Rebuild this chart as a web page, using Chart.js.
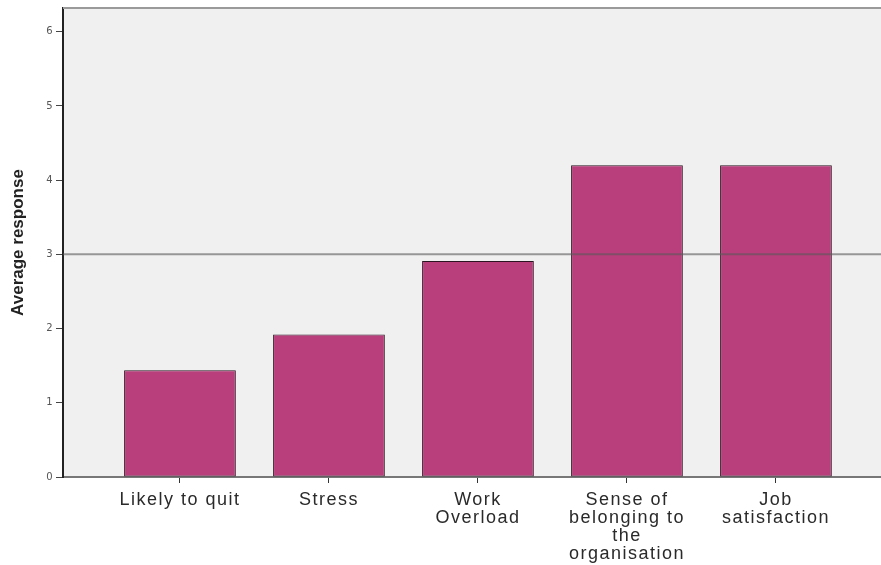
<!DOCTYPE html>
<html>
<head>
<meta charset="utf-8">
<script src="https://cdn.jsdelivr.net/npm/chart.js@4.4.1/dist/chart.umd.min.js"></script>
<style>
    html, body { margin: 0; padding: 0; background: #fff; }
    #wrap { width: 881px; height: 565px; }
</style>
</head>
<body>
<div id="wrap"><canvas id="barChart"></canvas></div>
<script>
// Data
const categories = [
    ['Likely to quit'],
    ['Stress'],
    ['Work', 'Overload'],
    ['Sense of', 'belonging to', 'the', 'organisation'],
    ['Job', 'satisfaction']
];
const averages = [1.44, 1.92, 2.91, 4.20, 4.20];
const yTicks = [0, 1, 2, 3, 4, 5, 6];
const referenceValue = 3;
const yTitle = 'Average response';

const barColor = '#b93f7c';

// Plot background, top border, reference line and y title
const plotDecor = {
    id: 'plotDecor',
    beforeDraw(chart) {
        const { ctx, chartArea } = chart;
        ctx.save();
        ctx.fillStyle = '#f0f0f0';
        ctx.fillRect(chartArea.left, chartArea.top, chartArea.right - chartArea.left, chartArea.bottom - chartArea.top);
        ctx.restore();
        // wider letter spacing for the category labels
        ctx.letterSpacing = '1.5px';
    },
    afterDatasetsDraw(chart) {
        const { ctx, chartArea, scales } = chart;
        const y = scales.y.getPixelForValue(referenceValue);
        ctx.save();
        ctx.strokeStyle = 'rgba(90, 90, 90, 0.6)';
        ctx.lineWidth = 2;
        ctx.beginPath();
        ctx.moveTo(chartArea.left, y);
        ctx.lineTo(chartArea.right, y);
        ctx.stroke();
        // top frame
        ctx.strokeStyle = '#9a9a9a';
        ctx.lineWidth = 2;
        ctx.beginPath();
        ctx.moveTo(chartArea.left, chartArea.top);
        ctx.lineTo(chartArea.right, chartArea.top);
        ctx.stroke();
        ctx.restore();
    },
    afterDraw(chart) {
        const { ctx, chartArea } = chart;
        ctx.save();
        ctx.letterSpacing = '0px';
        ctx.translate(18, (chartArea.top + chartArea.bottom) / 2);
        ctx.rotate(-Math.PI / 2);
        ctx.fillStyle = '#222';
        ctx.font = 'bold 17px "Liberation Sans", Arial, sans-serif';
        ctx.textAlign = 'center';
        ctx.textBaseline = 'middle';
        ctx.fillText(yTitle, 0, 0);
        ctx.restore();
    }
};

function initDashboardChart() {
    const ctx = document.getElementById('barChart').getContext('2d');
    new Chart(ctx, {
        type: 'bar',
        data: {
            datasets: [{
                label: yTitle,
                data: averages.map((v, i) => ({ x: i, y: v })),
                backgroundColor: barColor,
                borderColor: '#2a1520',
                borderWidth: 1,
                borderSkipped: false,
                barPercentage: 0.75,
                categoryPercentage: 1
            }]
        },
        options: {
            responsive: true,
            maintainAspectRatio: false,
            animation: false,
            layout: { padding: { left: 0, right: 0, top: 8, bottom: 0 } },
            plugins: {
                legend: { display: false },
                tooltip: { enabled: false }
            },
            scales: {
                x: {
                    type: 'linear',
                    offset: false,
                    min: -0.785,
                    max: 4.705,
                    afterBuildTicks(scale) {
                        scale.ticks = categories.map((c, i) => ({ value: i }));
                    },
                    afterFit(scale) { scale.height = 88; },
                    ticks: {
                        autoSkip: false,
                        maxRotation: 0,
                        padding: 8,
                        color: '#2a2a2a',
                        font: { family: '"Liberation Sans", Arial, sans-serif', size: 18, lineHeight: 1.0 },
                        callback: (value) => categories[value]
                    },
                    grid: {
                        offset: false,
                        drawOnChartArea: false,
                        drawTicks: true,
                        tickLength: 6,
                        color: '#333',
                        lineWidth: 1
                    },
                    border: { display: true, color: '#777', width: 2 }
                },
                y: {
                    min: 0,
                    max: 6.32,
                    afterBuildTicks(scale) {
                        scale.ticks = yTicks.map(v => ({ value: v }));
                    },
                    afterFit(scale) { scale.width = 63; },
                    ticks: {
                        padding: 2,
                        color: '#555',
                        font: { family: '"DejaVu Sans", sans-serif', size: 10 }
                    },
                    grid: {
                        drawOnChartArea: false,
                        drawTicks: true,
                        tickLength: 7,
                        color: '#444',
                        lineWidth: 1
                    },
                    border: { display: true, color: '#222', width: 2 }
                }
            }
        },
        plugins: [plotDecor]
    });
}

initDashboardChart();
</script>
</body>
</html>
